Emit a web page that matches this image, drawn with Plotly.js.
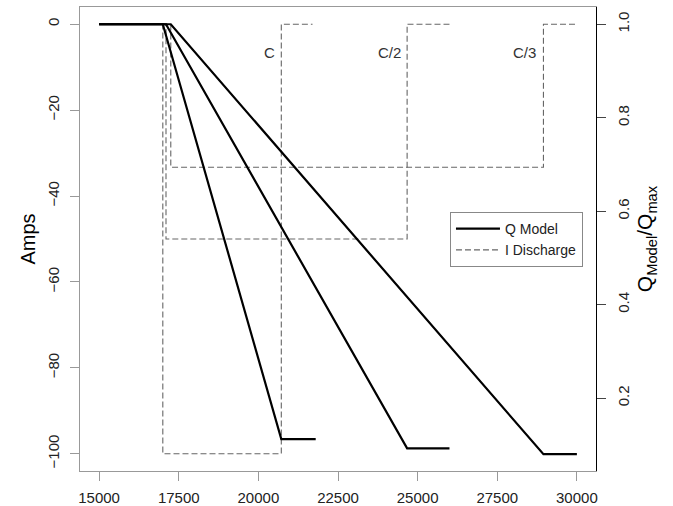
<!DOCTYPE html>
<html>
<head>
<meta charset="utf-8">
<script src="https://cdn.plot.ly/plotly-3.0.1.min.js"></script>
<style>html,body{margin:0;padding:0;background:#fff;}#chart{width:673px;height:506px;}</style>
</head>
<body>
<div id="chart"></div>
<script>
// Discharge current steps (Amps, left axis)
var iC_x  = [15000, 17000, 17000, 20720, 20720, 21700];
var iC_y  = [0, 0, -100, -100, 0, 0];
var iC2_x = [15000, 17100, 17100, 24670, 24670, 26000];
var iC2_y = [0, 0, -50, -50, 0, 0];
var iC3_x = [15000, 17250, 17250, 28950, 28950, 30000];
var iC3_y = [0, 0, -33.3, -33.3, 0, 0];

// Q model (Q/Qmax, right axis)
var qC_x  = [15000, 17000, 20720, 21800];
var qC_y  = [1.0, 1.0, 0.1125, 0.1125];
var qC2_x = [15000, 17100, 24670, 26000];
var qC2_y = [1.0, 1.0, 0.0926, 0.0926];
var qC3_x = [15000, 17250, 28950, 30000];
var qC3_y = [1.0, 1.0, 0.080, 0.080];

// Rate labels
var rateLabels = ["C", "C/2", "C/3"];
var rateLabelX = [20350, 24120, 28340];
var rateLabelY = [-6.5, -6.5, -6.5];

var font = "Liberation Sans, Arial, sans-serif";
var dashStyle = {color: "#666", width: 1.1, dash: "6px,3px"};
var solidStyle = {color: "#000", width: 2.2};

function iTrace(x, y, show) {
  return {x: x, y: y, type: "scatter", mode: "lines", line: dashStyle,
          name: "I Discharge", showlegend: show, legendrank: 2,
          xaxis: "x", yaxis: "y", hoverinfo: "skip"};
}
function qTrace(x, y, show) {
  return {x: x, y: y, type: "scatter", mode: "lines", line: solidStyle,
          name: "Q Model", showlegend: show, legendrank: 1,
          xaxis: "x", yaxis: "y2", hoverinfo: "skip"};
}

var data = [
  iTrace(iC_x, iC_y, true),
  iTrace(iC2_x, iC2_y, false),
  iTrace(iC3_x, iC3_y, false),
  qTrace(qC_x, qC_y, true),
  qTrace(qC2_x, qC2_y, false),
  qTrace(qC3_x, qC3_y, false)
];

var annotations = rateLabels.map(function (t, i) {
  return {x: rateLabelX[i], y: rateLabelY[i], xref: "x", yref: "y", text: t,
          showarrow: false, font: {family: font, size: 15, color: "#333"}};
});

var layout = {
  width: 673, height: 506,
  margin: {l: 80, r: 77, t: 7, b: 35, pad: 0},
  paper_bgcolor: "#fff", plot_bgcolor: "#fff",
  font: {family: font, color: "#222"},
  showlegend: true,
  legend: {x: 0.717, y: 0.558, xanchor: "left", yanchor: "top",
           bgcolor: "#fff", bordercolor: "#888", borderwidth: 1,
           tracegroupgap: 0, itemwidth: 44,
           font: {family: font, size: 14, color: "#222"}},
  xaxis: {range: [14400, 30600], tickvals: [15000, 17500, 20000, 22500, 25000, 27500, 30000],
          ticktext: ["15000", "17500", "20000", "22500", "25000", "27500", "30000"],
          showgrid: false, zeroline: false, showline: true, mirror: true,
          linecolor: "#999", linewidth: 1, ticks: "outside", ticklen: 9,
          tickcolor: "#999", tickwidth: 1, ticklabelstandoff: 4,
          tickfont: {family: font, size: 15, color: "#222"}},
  yaxis: {range: [-104, 4], tickvals: [0, -20, -40, -60, -80, -100],
          showgrid: false, zeroline: false, showline: true, mirror: false,
          linecolor: "#999", linewidth: 1, ticks: "outside", ticklen: 9,
          tickcolor: "#999", tickwidth: 1, tickangle: -90, ticklabelstandoff: 5,
          tickfont: {family: font, size: 15, color: "#222"},
          title: {text: "Amps", font: {family: font, size: 20, color: "#000"}, standoff: 4}},
  yaxis2: {range: [0.0441, 1.0369], tickvals: [0.2, 0.4, 0.6, 0.8, 1.0],
           ticktext: ["0.2", "0.4", "0.6", "0.8", "1.0"],
           overlaying: "y", side: "right",
           showgrid: false, zeroline: false, showline: true,
           linecolor: "#000", linewidth: 1, ticks: "outside", ticklen: 9,
           tickcolor: "#444", tickwidth: 1, tickangle: -90, ticklabelstandoff: 5,
           tickfont: {family: font, size: 15, color: "#222"},
           title: {text: "Q<sub>Model</sub>/Q<sub>max</sub>", font: {family: font, size: 21, color: "#000"}, standoff: 6}},
  annotations: annotations
};

Plotly.newPlot("chart", data, layout, {displayModeBar: false, staticPlot: true});
</script>
</body>
</html>
